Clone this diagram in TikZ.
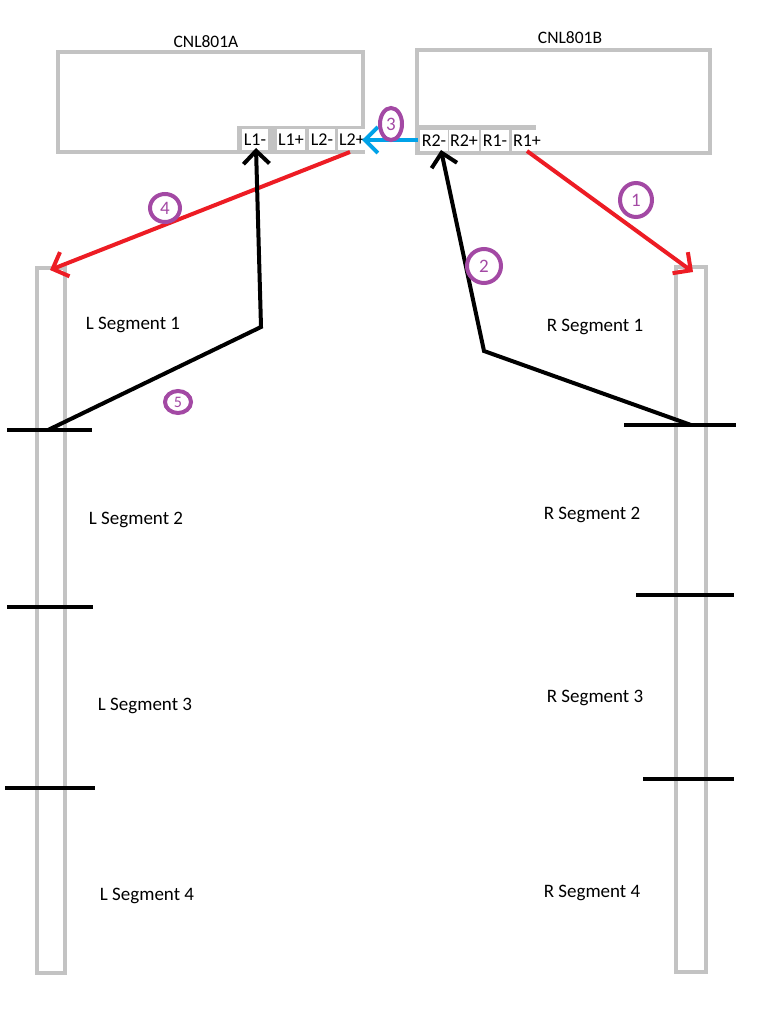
\documentclass[tikz,border=0pt]{standalone}
\usepackage{fontspec}
\setmainfont{Carlito}
\usetikzlibrary{arrows.meta,shapes.geometric}
\definecolor{pgray}{HTML}{C3C3C3}
\definecolor{pred}{HTML}{ED1C24}
\definecolor{pblue}{HTML}{00A2E8}
\definecolor{ppurple}{HTML}{A349A4}
\tikzset{
  box/.style={draw=pgray,line width=4pt},
  strip/.style={draw=pgray,fill=pgray,line width=2pt},
  term/.style={fill=white,inner xsep=1.5pt,inner ysep=0pt,minimum height=21pt,font=\fontsize{18}{20}\selectfont},
  lbl/.style={font=\fontsize{19}{21}\selectfont},
  ttl/.style={font=\fontsize{17.5}{20}\selectfont},
  seg/.style={draw=black,line width=4pt},
  wire/.style={line width=4pt,-{Straight Barb[length=13pt,width=26pt,line width=4pt]}},
  num/.style={draw=ppurple,line width=4pt,ellipse,text=ppurple,inner sep=0pt,font=\fontsize{19}{21}\selectfont},
}
\begin{document}
\begin{tikzpicture}[x=1pt,y=-1pt]
\useasboundingbox (0,0) rectangle (768,1024);
\fill[white] (0,0) rectangle (768,1024);
% boxes
\draw[box] (58,52) rectangle (363,152);
\draw[box] (417,50) rectangle (710,153);
\node[ttl] (ta) at (206,42) {CNL801A};
\node[ttl] (tb) at (570,38) {CNL801B};
% strips
\draw[strip] (238,127) rectangle (363,152);
\draw[strip] (418,126) rectangle (535,152);
\node[term] (L1m) at (255,140) {L1-};
\node[term] (L1p) at (291,140) {L1+};
\node[term] (L2m) at (322,140) {L2-};
\node[term] (L2p) at (352,140) {L2+};
\node[term] (R2m) at (434,141) {R2-};
\node[term] (R2p) at (464,141) {R2+};
\node[term] (R1m) at (495,141) {R1-};
\node[term] (R1p) at (527,141) {R1+};
% rails
\draw[box,line width=4.5pt] (37,268) rectangle (65,973);
\draw[box,line width=4.5pt] (676,267) rectangle (706,972);
\coordinate (ltop) at (50,270);
\coordinate (rtop) at (693,272);
% segment bars
\coordinate (lb1a) at (7,430); \coordinate (lb1b) at (92,430);
\coordinate (lb2a) at (7,607); \coordinate (lb2b) at (93,607);
\coordinate (lb3a) at (5,788); \coordinate (lb3b) at (95,788);
\coordinate (rb1a) at (624,425); \coordinate (rb1b) at (736,425);
\coordinate (rb2a) at (636,595); \coordinate (rb2b) at (734,595);
\coordinate (rb3a) at (643,779); \coordinate (rb3b) at (734,779);
\draw[seg] (lb1a) -- (lb1b);
\draw[seg] (lb2a) -- (lb2b);
\draw[seg] (lb3a) -- (lb3b);
\draw[seg] (rb1a) -- (rb1b);
\draw[seg] (rb2a) -- (rb2b);
\draw[seg] (rb3a) -- (rb3b);
% segment labels
\node[lbl] (ls1) at (133,325) {L Segment 1};
\node[lbl] (ls2) at (136,520) {L Segment 2};
\node[lbl] (ls3) at (145,706) {L Segment 3};
\node[lbl] (ls4) at (147,896) {L Segment 4};
\node[lbl] (rs1) at (595,327) {R Segment 1};
\node[lbl] (rs2) at (592,515) {R Segment 2};
\node[lbl] (rs3) at (595,698) {R Segment 3};
\node[lbl] (rs4) at (592,893) {R Segment 4};
% wires
\coordinate (w1s) at (527,151);
\draw[wire,pred] (w1s) -- (rtop);
\coordinate (w2s) at (691,425);
\coordinate (w2m) at (484,351);
\coordinate (w2e) at (441,150);
\draw[wire,black] (w2s) -- (w2m) -- (w2e);
\coordinate (w3s) at (418,140);
\coordinate (w3e) at (362,140);
\draw[wire,pblue] (w3s) -- (w3e);
\coordinate (w4s) at (350,152);
\draw[wire,pred] (w4s) -- (ltop);
\coordinate (w5s) at (48,430);
\coordinate (w5m) at (261,327);
\coordinate (w5e) at (256,148);
\draw[wire,black] (w5s) -- (w5m) -- (w5e);
% numbers
\node[num,minimum width=32pt,minimum height=34pt] (n1) at (636,200) {1};
\node[num,minimum width=34pt,minimum height=34pt] (n2) at (484,266) {2};
\node[num,minimum width=22pt,minimum height=32pt] (n3) at (391,124) {3};
\node[num,minimum width=30pt,minimum height=28pt] (n4) at (165,208) {4};
\node[num,minimum width=26pt,minimum height=22pt,font=\fontsize{16}{18}\selectfont] (n5) at (178,402) {5};
\end{tikzpicture}
\end{document}
